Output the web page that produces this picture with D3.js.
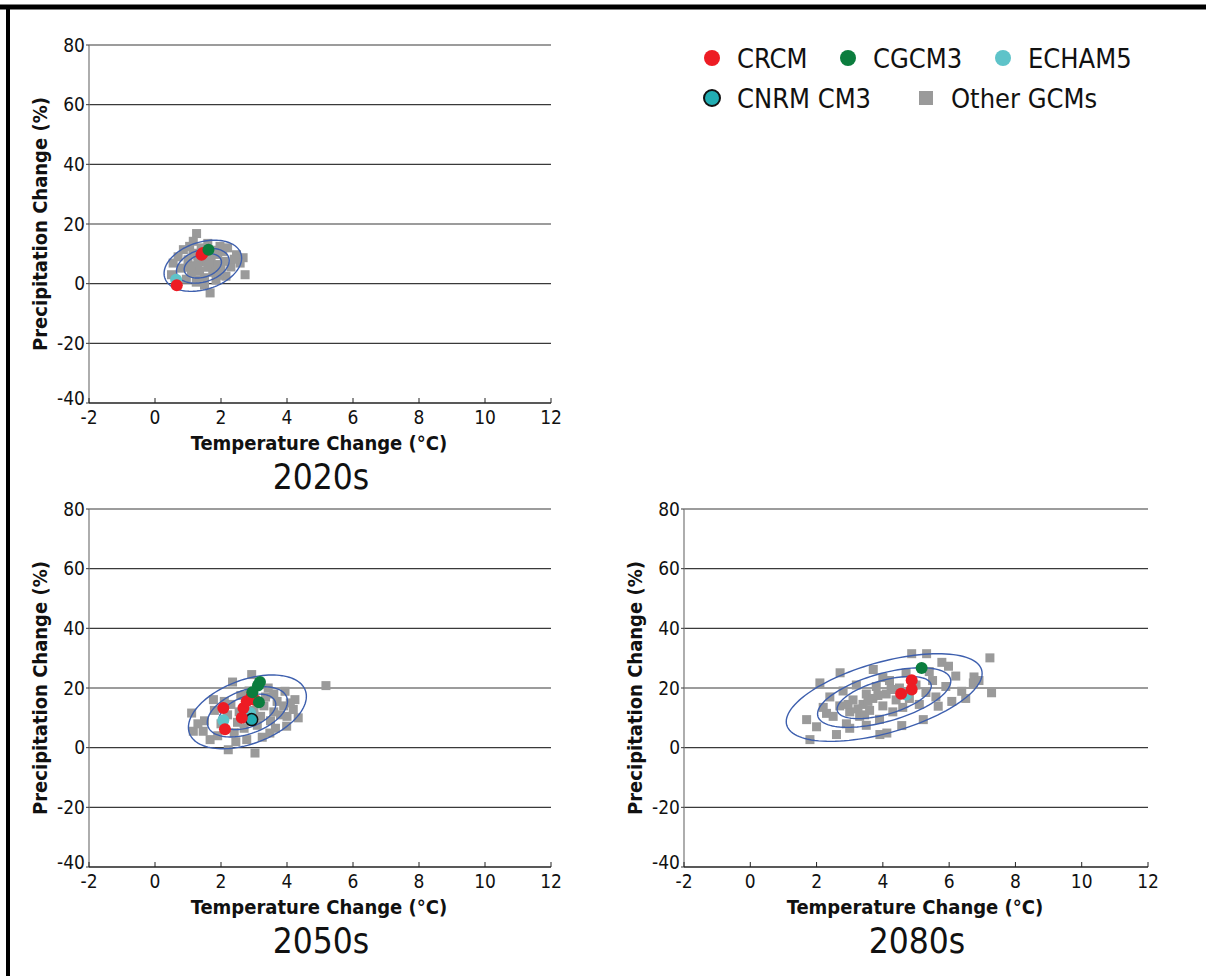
<!DOCTYPE html>
<html>
<head>
<meta charset="utf-8">
<script src="https://cdn.jsdelivr.net/npm/d3@7"></script>
<style>
  body { margin: 0; background: #fff; }
  svg { display: block; }
  .tick-label { font-family: "DejaVu Sans Condensed", "DejaVu Sans", sans-serif; font-size: 19px; fill: #111; }
  .axis-title { font-family: "DejaVu Sans Condensed", "DejaVu Sans", sans-serif; font-size: 20px; font-weight: bold; fill: #111; }
  .period-title { font-family: "DejaVu Sans Condensed", "DejaVu Sans", sans-serif; font-size: 35px; fill: #111; }
  .legend-text { font-family: "DejaVu Sans Condensed", "DejaVu Sans", sans-serif; font-size: 27px; fill: #111; }
</style>
</head>
<body>
<script>
// ---- data ----
const periods = ["2020s", "2050s", "2080s"];
const xTicks = [-2, 0, 2, 4, 6, 8, 10, 12];
const yTicks = [-40, -20, 0, 20, 40, 60, 80];

// [temperature change (°C), precipitation change (%)]
const other2020 = [[1.26,16.8],[1.16,14.2],[1.05,12.5],[0.86,11.4],[1.97,12.5],[2.2,12.0],[2.47,9.7],[2.67,8.7],
  [2.58,6.9],[2.73,3.0],[1.67,-3.1],[0.55,6.9],[0.5,3.0],[0.8,5.2],[1.0,8.0],[1.1,3.5],[1.2,6.0],[1.3,9.5],
  [1.35,4.2],[1.45,7.3],[1.5,2.0],[1.55,10.5],[1.6,5.5],[1.7,8.6],[1.75,3.8],[1.85,6.4],[1.9,9.8],[2.0,4.8],
  [2.1,7.5],[2.3,5.6],[2.4,8.2],[1.4,12.0],[1.6,13.5],[1.8,11.2],[0.95,1.5],[1.25,0.5],[1.85,1.2],[2.15,2.5],
  [0.7,9.0],[1.15,10.2],[2.05,10.8],[1.5,-0.5],[1.35,1.3],[1.05,5.5],[1.3,7.0],[1.65,7.0],[1.95,2.8]];
const crcm2020 = [[0.66,-0.5],[1.41,9.7],[1.45,10.3]];
const cgcm2020 = [[1.62,11.4]];
const echam2020 = [[0.64,1.3]];
const cnrm2020 = [];

const other2050 = [[2.93,24.5],[3.03,-1.8],[2.22,-0.7],[1.11,11.6],[1.16,5.5],[1.46,5.5],[1.77,16.1],[4.24,16.1],
  [4.34,10.0],[3.94,18.9],[3.43,20.0],[4.19,12.8],[3.99,7.2],[3.48,4.9],[2.78,2.7],[1.67,2.7],[5.18,20.8],
  [1.5,9.0],[1.8,12.5],[2.0,8.0],[2.2,11.0],[2.3,14.5],[2.4,5.0],[2.5,8.5],[2.55,12.0],[2.6,17.5],[2.7,6.5],
  [2.8,9.5],[2.85,19.0],[3.0,12.5],[3.1,7.5],[3.2,10.5],[3.3,14.0],[3.35,17.0],[3.5,9.0],[3.6,12.0],[3.7,15.5],
  [3.8,11.0],[3.9,14.0],[4.1,15.0],[2.1,15.5],[1.9,4.0],[2.45,2.0],[3.25,3.5],[3.65,6.5],[4.0,10.5],[1.3,8.0],
  [2.35,22.0],[3.6,18.0]];
const crcm2050 = [[2.07,13.3],[2.68,13.3],[2.78,15.6],[2.93,17.2],[3.03,16.0],[2.63,10.0],[2.12,6.2]];
const cgcm2050 = [[3.18,22.0],[3.12,20.8],[2.95,18.6],[3.15,15.2]];
const echam2050 = [[2.07,9.2],[2.88,11.6]];
const cnrm2050 = [[2.93,9.4]];

const other2080 = [[7.23,30.1],[7.28,18.4],[5.32,31.5],[4.87,31.5],[5.78,28.6],[5.98,27.3],[6.75,23.7],[6.73,21.7],
  [6.38,18.9],[6.08,15.5],[5.67,13.9],[5.22,9.4],[4.57,7.4],[3.91,4.4],[4.12,4.9],[1.80,2.7],[1.7,9.4],
  [2.71,25.1],[2.1,21.7],[3.71,26.2],[2.6,4.4],[2.2,13.5],[2.4,17.0],[2.5,10.5],[2.7,14.0],[2.8,19.0],[2.9,8.0],
  [3.0,12.0],[3.1,16.0],[3.2,21.0],[3.3,10.5],[3.4,14.5],[3.5,18.0],[3.6,12.5],[3.7,16.5],[3.8,20.5],[3.9,9.5],
  [4.0,14.0],[4.1,18.0],[4.2,22.5],[4.3,12.0],[4.4,16.0],[4.5,20.0],[4.6,13.5],[4.8,16.5],[5.0,21.0],[5.1,14.5],
  [5.3,18.5],[5.5,22.5],[5.6,17.0],[5.9,20.5],[6.2,24.0],[6.5,16.5],[3.0,6.5],[3.5,7.5],[2.3,11.5],[4.0,23.5],
  [4.7,25.0],[5.4,25.5],[2.0,7.0],[6.9,22.5],[3.25,13.0],[3.55,15.5],[3.85,17.5],[4.25,19.5],[3.45,11.0],[2.95,14.5]];
const crcm2080 = [[4.87,22.6],[4.87,19.5],[4.55,18.1]];
const cgcm2080 = [[5.17,26.7]];
const echam2080 = [[4.7,17.8]];
const cnrm2080 = [];

// ellipse statistics per period: mean T, mean P, sd T, sd P, correlation
const ellipseMeanT = [1.45, 2.8, 4.04];
const ellipseMeanP = [6.0, 12.0, 16.8];
const ellipseSdT = [0.48, 0.73, 1.207];
const ellipseSdP = [3.5, 5.05, 6.0];
const ellipseRho = [0.3, 0.42, 0.55];
const ellipseLevels = [1.177, 1.665, 2.448]; // 50%, 75%, 95%

const legendNames = ["CRCM", "CGCM3", "ECHAM5", "CNRM CM3", "Other GCMs"];

// ---- drawing ----
const W = 1206, H = 976;
const svg = d3.select("body").append("svg").attr("width", W).attr("height", H);

// frame lines (top and left)
svg.append("line").attr("x1", 0).attr("x2", W).attr("y1", 7).attr("y2", 7)
   .attr("stroke", "#000").attr("stroke-width", 5);
svg.append("line").attr("x1", 8).attr("x2", 8).attr("y1", 5).attr("y2", H)
   .attr("stroke", "#000").attr("stroke-width", 4);

const colors = { crcm: "#ed1c24", cgcm: "#0b7d3e", echam: "#5ec3c9", cnrm: "#22adb2", other: "#9a9a9a" };

const panels = [
  { left: 89, right: 551, top: 45, bottom: 403, other: other2020, crcm: crcm2020, cgcm: cgcm2020, echam: echam2020, cnrm: cnrm2020 },
  { left: 89, right: 551, top: 509, bottom: 867, other: other2050, crcm: crcm2050, cgcm: cgcm2050, echam: echam2050, cnrm: cnrm2050 },
  { left: 684, right: 1148, top: 509, bottom: 867, other: other2080, crcm: crcm2080, cgcm: cgcm2080, echam: echam2080, cnrm: cnrm2080 }
];

panels.forEach(function(p, i) {
  var x = d3.scaleLinear().domain([-2, 12]).range([p.left, p.right]);
  var y = d3.scaleLinear().domain([-40, 80]).range([p.bottom, p.top]);
  var g = svg.append("g");

  // gridlines
  g.selectAll(".grid").data(yTicks.filter(d => d > -40)).enter().append("line")
   .attr("x1", x(-2)).attr("x2", x(12))
   .attr("y1", d => y(d)).attr("y2", d => y(d))
   .attr("stroke", "#3a3a3a").attr("stroke-width", 1.2);

  // y axis
  g.append("line").attr("x1", x(-2)).attr("x2", x(-2)).attr("y1", y(80)).attr("y2", y(-40))
   .attr("stroke", "#777").attr("stroke-width", 1.2);
  g.selectAll(".ytl").data(yTicks).enter().append("text")
   .attr("class", "tick-label")
   .attr("x", x(-2) - 4).attr("y", d => y(d) - (d === -40 ? 5 : 0)).attr("dy", "0.35em")
   .attr("text-anchor", "end").text(d => d);
  g.selectAll(".ytk").data(yTicks).enter().append("line")
   .attr("x1", x(-2) - 3).attr("x2", x(-2)).attr("y1", d => y(d)).attr("y2", d => y(d))
   .attr("stroke", "#3a3a3a");

  // x axis
  g.append("line").attr("x1", x(-2)).attr("x2", x(12)).attr("y1", y(-40)).attr("y2", y(-40))
   .attr("stroke", "#222").attr("stroke-width", 1.5);
  g.selectAll(".xtk").data(xTicks).enter().append("line")
   .attr("x1", d => x(d)).attr("x2", d => x(d)).attr("y1", y(-40)).attr("y2", y(-40) - 5)
   .attr("stroke", "#222");
  g.selectAll(".xtl").data(xTicks).enter().append("text")
   .attr("class", "tick-label")
   .attr("x", d => x(d)).attr("y", y(-40) + 21)
   .attr("text-anchor", "middle").text(d => d);

  // titles
  var cx = (p.left + p.right) / 2 - 1;
  g.append("text").attr("class", "axis-title")
   .attr("x", cx).attr("y", p.bottom + 47).attr("text-anchor", "middle")
   .text("Temperature Change (°C)");
  g.append("text").attr("class", "period-title")
   .attr("x", cx + 2).attr("y", p.bottom + 86).attr("text-anchor", "middle")
   .text(periods[i]);
  g.append("text").attr("class", "axis-title")
   .attr("transform", "translate(" + (p.left - 42) + "," + ((p.top + p.bottom) / 2) + ") rotate(-90)")
   .attr("text-anchor", "middle")
   .text("Precipitation Change (%)");

  // other GCMs
  g.selectAll(".other").data(p.other).enter().append("rect")
   .attr("x", d => x(d[0]) - 4.5).attr("y", d => y(d[1]) - 4.5)
   .attr("width", 9).attr("height", 9)
   .attr("fill", colors.other);

  // ellipses
  var mt = ellipseMeanT[i], mp = ellipseMeanP[i], st = ellipseSdT[i], sp = ellipseSdP[i], r = ellipseRho[i];
  var line = d3.line().curve(d3.curveLinearClosed);
  ellipseLevels.forEach(function(k) {
    var pts = d3.range(0, 360, 3).map(function(a) {
      var u = Math.cos(a * Math.PI / 180), v = Math.sin(a * Math.PI / 180);
      var t = mt + k * st * u;
      var pr = mp + k * sp * (r * u + Math.sqrt(1 - r * r) * v);
      return [x(t), y(pr)];
    });
    g.append("path").attr("d", line(pts))
     .attr("fill", "none").attr("stroke", "#3d5fae").attr("stroke-width", 1.4);
  });

  // highlighted models
  function dots(data, fill, stroke) {
    g.selectAll(null).data(data).enter().append("circle")
     .attr("cx", d => x(d[0])).attr("cy", d => y(d[1])).attr("r", 6)
     .attr("fill", fill).attr("stroke", stroke || "none").attr("stroke-width", 1.5);
  }
  dots(p.echam, colors.echam);
  dots(p.cnrm, colors.cnrm, "#111");
  dots(p.crcm, colors.crcm);
  dots(p.cgcm, colors.cgcm);
});

// legend
var leg = svg.append("g");
var legPos = [[712, 58], [848, 58], [1003, 58], [712, 98], [926, 98]];
var legFill = [colors.crcm, colors.cgcm, colors.echam, colors.cnrm, colors.other];
legendNames.forEach(function(name, i) {
  var px = legPos[i][0], py = legPos[i][1];
  if (i === 4) {
    leg.append("rect").attr("x", px - 7).attr("y", py - 7).attr("width", 14).attr("height", 14).attr("fill", legFill[i]);
  } else {
    leg.append("circle").attr("cx", px).attr("cy", py).attr("r", 8).attr("fill", legFill[i])
       .attr("stroke", i === 3 ? "#111" : "none").attr("stroke-width", 2);
  }
  leg.append("text").attr("class", "legend-text").attr("x", px + 25).attr("y", py + 10).text(name);
});
</script>
</body>
</html>
